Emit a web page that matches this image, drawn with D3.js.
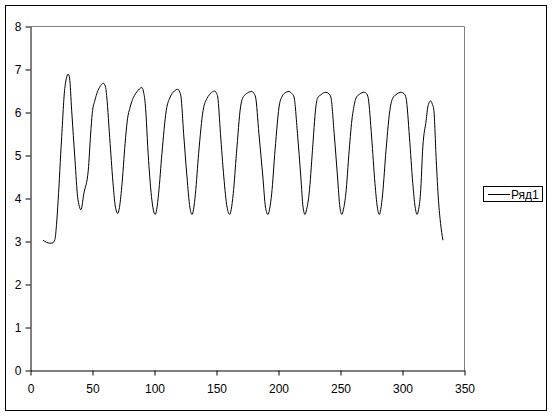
<!DOCTYPE html>
<html>
<head>
<meta charset="utf-8">
<script src="https://cdn.jsdelivr.net/npm/d3@7"></script>
<style>
  body { margin: 0; background: #fff; }
  svg text { font-family: "Liberation Sans", Arial, sans-serif; font-size: 12px; fill: #000; }
</style>
</head>
<body>
<svg width="552" height="416"></svg>
<script>
// Values
var xs = [10.2, 13, 15.6, 18, 19.7, 21, 22.3, 25, 27.8, 30.4, 31.5, 33.2, 35.9, 38, 40.7, 43, 46.6, 48.5, 49.8, 52, 56, 58.8, 60.5,
  61.5, 64.2, 66.8, 68.5, 70.4, 71.5, 73.6, 76.3, 78, 80.4, 83, 85.8, 89.8, 91, 92.5, 95.2, 97.9, 99.5, 100.6, 101.8, 103.3,
  106, 109.5, 112.7, 116, 118.7, 120.3, 121.4, 123.5, 126.2, 128.5, 130.3, 131.5, 133, 135.6, 139.2, 142.4, 145.5, 148.3,
  150, 151, 153.2, 155.9, 158.5, 160.7, 161.9, 163.5, 166.1, 169.4, 171, 174.2, 178.5, 180, 181.5, 184.2, 187.4, 189.5,
  191.5, 192.8, 194.5, 197.2, 200.9, 202.5, 205, 208.5, 210.5, 212.5, 215.3, 218, 219.8, 221.4, 222.7, 224.7, 227.4, 230,
  231.4, 234.5, 238.2, 240.5, 242.2, 244.9, 247.6, 249.5, 251.1, 252.4, 254.3, 257, 259.5, 260.3, 262.4, 265.5, 269.2, 271,
  272.4, 275.1, 277.8, 279.7, 281.3, 282.5, 284, 286.7, 290.2, 292.1, 295.5, 298.9, 301.2, 302.9, 305.6, 308.3, 310.2,
  311.8, 313, 314.5, 316.4, 319.1, 320.4, 322.6, 324, 325.3, 327.2, 329, 330.7, 332.6];
var ys = [3.03, 2.98, 2.96, 2.97, 3.05, 3.4, 3.96, 5.36, 6.6, 6.89, 6.8, 6.05, 4.89, 4.04, 3.74, 4.11, 4.66, 5.5, 5.98, 6.29, 6.6, 6.68, 6.6,
  6.36, 5.28, 4.27, 3.8, 3.65, 3.75, 4.27, 5.28, 5.8, 6.13, 6.35, 6.48, 6.58, 6.5, 6.21, 4.89, 3.96, 3.68, 3.63, 3.75, 4.11,
  5.05, 6.05, 6.36, 6.5, 6.54, 6.48, 6.36, 5.51, 4.5, 3.8, 3.63, 3.75, 4.11, 5.05, 6.05, 6.33, 6.45, 6.5,
  6.45, 6.36, 5.51, 4.5, 3.8, 3.63, 3.75, 4.11, 5.05, 6.13, 6.33, 6.44, 6.49, 6.45, 6.36, 5.51, 4.5, 3.8,
  3.63, 3.75, 4.11, 5.12, 6.21, 6.35, 6.45, 6.49, 6.45, 6.36, 5.51, 4.5, 3.8, 3.63, 3.75, 4.11, 5.12, 6.1,
  6.33, 6.42, 6.47, 6.44, 6.36, 5.51, 4.5, 3.8, 3.63, 3.75, 4.11, 5.12, 5.9, 6.05, 6.33, 6.43, 6.47, 6.44,
  6.33, 5.43, 4.35, 3.8, 3.63, 3.75, 4.11, 5.12, 6.13, 6.33, 6.43, 6.47, 6.44, 6.33, 5.43, 4.35, 3.8,
  3.63, 3.75, 4.11, 5.2, 5.82, 6.13, 6.27, 6.2, 6.05, 4.89, 3.96, 3.42, 3.03];
var xTicks = [0, 50, 100, 150, 200, 250, 300, 350];
var yTicks = [0, 1, 2, 3, 4, 5, 6, 7, 8];
var seriesName = 'Ряд1';

var points = xs.map((d, i) => ({x: d, y: ys[i]}));

var svg = d3.select('svg');

// chart frame
svg.append('rect')
  .attr('x', 5.5).attr('y', 5.5)
  .attr('width', 541).attr('height', 405)
  .attr('fill', 'none').attr('stroke', '#000');

var x = d3.scaleLinear().domain([0, 350]).range([30.5, 464.5]);
var y = d3.scaleLinear().domain([0, 8]).range([370.5, 26.5]);

// plot area: grey top and right edges
svg.append('path')
  .attr('d', 'M' + x(0) + ',' + y(8) + 'H' + x(350) + 'V' + y(0))
  .attr('fill', 'none').attr('stroke', '#808080');

var xAxis = svg.append('g')
  .attr('transform', 'translate(0,' + y(0) + ')')
  .call(d3.axisBottom(x).tickValues(xTicks).tickSize(5).tickPadding(9).tickSizeOuter(0));
var yAxis = svg.append('g')
  .attr('transform', 'translate(' + x(0) + ',0)')
  .call(d3.axisLeft(y).tickValues(yTicks).tickSize(5).tickPadding(4).tickSizeOuter(0));

[xAxis, yAxis].forEach(g => {
  g.attr('font-family', null).attr('font-size', null);
  g.selectAll('path, line').attr('stroke', '#000');
  g.selectAll('text').attr('fill', '#000');
});

var line = d3.line().x(d => x(d.x)).y(d => y(d.y)).curve(d3.curveMonotoneX);

svg.append('path')
  .datum(points)
  .attr('fill', 'none')
  .attr('stroke', '#000')
  .attr('stroke-width', 1)
  .attr('d', line);

// legend
var legend = svg.append('g');
legend.append('rect')
  .attr('x', 483.5).attr('y', 186.5)
  .attr('width', 59).attr('height', 15)
  .attr('fill', '#fff').attr('stroke', '#000');
legend.append('line')
  .attr('x1', 488).attr('x2', 510)
  .attr('y1', 194.5).attr('y2', 194.5)
  .attr('stroke', '#000');
legend.append('text')
  .attr('x', 511).attr('y', 199)
  .text(seriesName);
</script>
</body>
</html>
